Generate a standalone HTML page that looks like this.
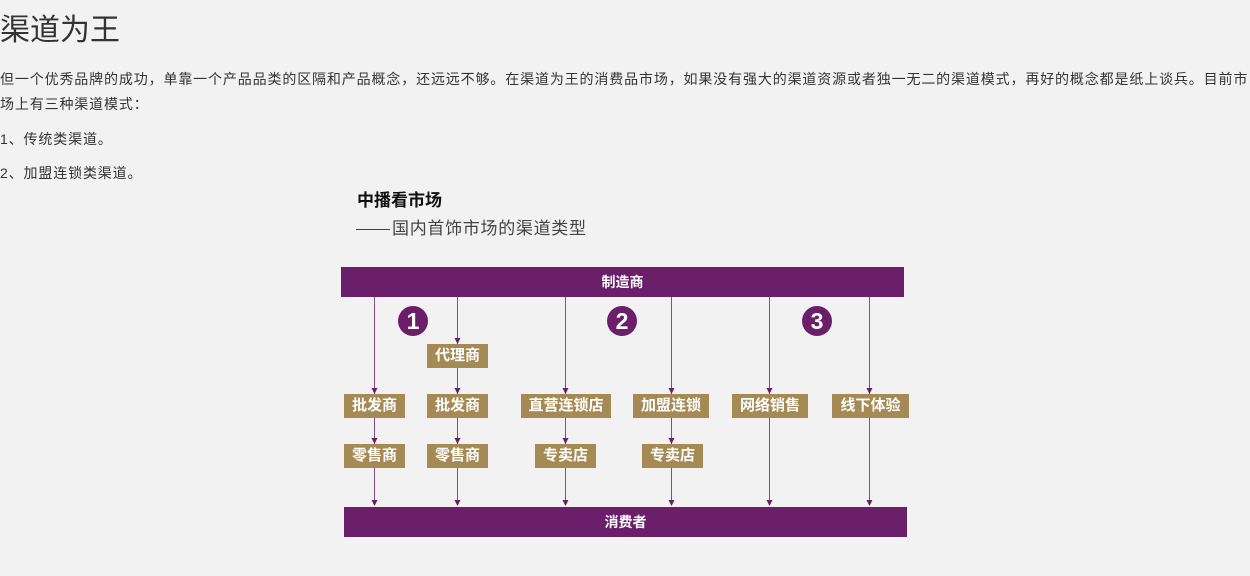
<!DOCTYPE html>
<html><head><meta charset="utf-8"><style>
body{margin:0;background:#f2f2f2;width:1250px;height:576px;overflow:hidden;position:relative;font-family:"Liberation Sans","Noto Sans CJK SC",sans-serif;color:#333}
.t{position:absolute;white-space:nowrap}
.p{font-size:14px;letter-spacing:0.86px;color:#333}
.bar{position:absolute;background:#6b1f6b;color:#fff;font-size:14px;font-weight:bold;text-align:center;line-height:30px}
.bx{position:absolute;background:#a68a55;color:#fff;font-size:15px;font-weight:bold;text-align:center;line-height:24px;height:24px}
.c{position:absolute;width:30px;height:30px;border-radius:50%;background:#6b1f6b;color:#fff;font-size:23px;font-weight:bold;text-align:center;line-height:30px;font-family:"Liberation Sans",sans-serif}
</style></head><body>
<div class="t" style="left:0;top:5px;font-size:30px;color:#333">渠道为王</div>
<div class="t p" style="left:0;top:69px">但一个优秀品牌的成功，单靠一个产品品类的区隔和产品概念，还远远不够。在渠道为王的消费品市场，如果没有强大的渠道资源或者独一无二的渠道模式，再好的概念都是纸上谈兵。目前市</div>
<div class="t p" style="left:0;top:94px">场上有三种渠道模式：</div>
<div class="t p" style="left:0;top:129px">1、传统类渠道。</div>
<div class="t p" style="left:0;top:163px">2、加盟连锁类渠道。</div>
<div class="t" style="left:357px;top:186px;font-size:17px;font-weight:bold;color:#111">中播看市场</div>
<div class="t" style="left:356px;top:214px;font-size:17px;letter-spacing:0.7px;color:#444"><span style="display:inline-block;width:34px;border-top:1px solid #444;vertical-align:middle;margin-right:2px"></span>国内首饰市场的渠道类型</div>
<svg style="position:absolute;left:0;top:0" width="1250" height="576">
<g stroke="#8a4a8a" stroke-width="1" fill="none">
<line x1="374.5" y1="297" x2="374.5" y2="505"/>
<line x1="457.5" y1="297" x2="457.5" y2="505"/>
<line x1="565.5" y1="297" x2="565.5" y2="505"/>
<line x1="671.5" y1="297" x2="671.5" y2="505"/>
<line x1="769.5" y1="297" x2="769.5" y2="505"/>
<line x1="869.5" y1="297" x2="869.5" y2="505"/>
</g>
<g fill="#6b1f6b">
<path d="M454.5 338h6l-3 6z"/>
<path d="M371.5 388h6l-3 6zM454.5 388h6l-3 6zM562.5 388h6l-3 6zM668.5 388h6l-3 6zM766.5 388h6l-3 6zM866.5 388h6l-3 6z"/>
<path d="M371.5 438h6l-3 6zM454.5 438h6l-3 6zM562.5 438h6l-3 6zM668.5 438h6l-3 6z"/>
<path d="M371.5 500h6l-3 6zM454.5 500h6l-3 6zM562.5 500h6l-3 6zM668.5 500h6l-3 6zM766.5 500h6l-3 6zM866.5 500h6l-3 6z"/>
</g>
</svg>
<div class="bar" style="left:341px;top:267px;width:563px;height:30px">制造商</div>
<div class="bar" style="left:344px;top:507px;width:563px;height:30px">消费者</div>
<div class="c" style="left:398px;top:306px">1</div>
<div class="c" style="left:607px;top:306px">2</div>
<div class="c" style="left:802px;top:306px">3</div>
<div class="bx" style="left:427px;top:344px;width:61px">代理商</div>
<div class="bx" style="left:344px;top:394px;width:61px">批发商</div>
<div class="bx" style="left:427px;top:394px;width:61px">批发商</div>
<div class="bx" style="left:521px;top:394px;width:90px">直营连锁店</div>
<div class="bx" style="left:633px;top:394px;width:76px">加盟连锁</div>
<div class="bx" style="left:732px;top:394px;width:76px">网络销售</div>
<div class="bx" style="left:832px;top:394px;width:77px">线下体验</div>
<div class="bx" style="left:344px;top:444px;width:61px">零售商</div>
<div class="bx" style="left:427px;top:444px;width:61px">零售商</div>
<div class="bx" style="left:535px;top:444px;width:61px">专卖店</div>
<div class="bx" style="left:642px;top:444px;width:61px">专卖店</div>
</body></html>
